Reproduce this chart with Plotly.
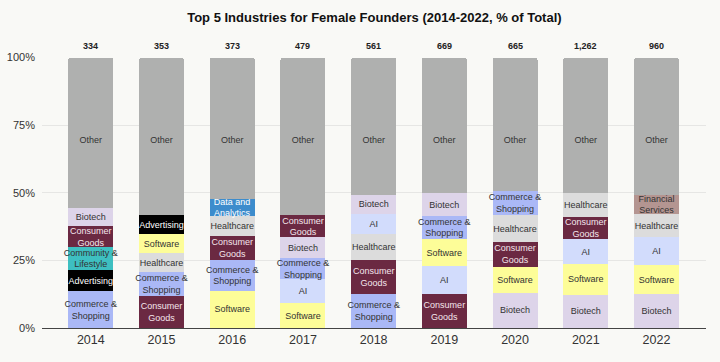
import plotly.graph_objects as go

years = ["2014", "2015", "2016", "2017", "2018", "2019", "2020", "2021", "2022"]
totals = ["334", "353", "373", "479", "561", "669", "665", "1,262", "960"]

# Segments stacked bottom -> top for each year
layer1_names = ["Commerce & Shopping", "Consumer Goods", "Software", "Software", "Commerce & Shopping",
                "Consumer Goods", "Biotech", "Biotech", "Biotech"]
layer1_vals = [13.5, 11.9, 13.7, 9.2, 12.5, 12.5, 13.1, 12.3, 12.5]

layer2_names = ["Advertising", "Commerce & Shopping", "Commerce & Shopping", "AI", "Consumer Goods",
                "AI", "Software", "Software", "Software"]
layer2_vals = [8.0, 8.7, 11.4, 8.8, 12.6, 10.4, 9.6, 11.4, 10.7]

layer3_names = ["Community & Lifestyle", "Healthcare", "Consumer Goods", "Commerce & Shopping", "Healthcare",
                "Software", "Consumer Goods", "AI", "AI"]
layer3_vals = [8.3, 7.2, 8.9, 7.8, 9.6, 9.9, 9.1, 9.1, 10.5]

layer4_names = ["Consumer Goods", "Software", "Healthcare", "Biotech", "AI",
                "Commerce & Shopping", "Healthcare", "Consumer Goods", "Healthcare"]
layer4_vals = [7.9, 6.8, 7.3, 7.7, 7.4, 8.6, 9.9, 8.1, 8.4]

layer5_names = ["Biotech", "Advertising", "Data and Analytics", "Consumer Goods", "Biotech",
                "Biotech", "Commerce & Shopping", "Healthcare", "Financial Services"]
layer5_vals = [6.7, 7.0, 6.4, 8.1, 7.2, 8.5, 8.8, 9.0, 7.2]

other_vals = [55.6, 58.4, 52.3, 58.4, 50.7, 50.1, 49.5, 50.1, 50.7]

colors = {
    "Other": "#afb0af",
    "Biotech": "#ddd4e9",
    "Consumer Goods": "#6b2942",
    "Community & Lifestyle": "#3ebfc1",
    "Advertising": "#000000",
    "Commerce & Shopping": "#aab8f6",
    "Software": "#fdfd98",
    "Healthcare": "#dcdcdc",
    "Data and Analytics": "#3d8ccc",
    "AI": "#d2dcfc",
    "Financial Services": "#b49591",
}
text_colors = {
    "Consumer Goods": "#f4e6ec",
    "Advertising": "#ffffff",
    "Data and Analytics": "#ffffff",
}
labels = {
    "Commerce & Shopping": "Commerce &<br>Shopping",
    "Consumer Goods": "Consumer<br>Goods",
    "Community & Lifestyle": "Community &<br>Lifestyle",
    "Data and Analytics": "Data and<br>Analytics",
    "Financial Services": "Financial<br>Services",
}

FONT = "Arial, Liberation Sans, sans-serif"
LABEL_SIZE = 9
xs = list(range(len(years)))

fig = go.Figure()
layers = [(layer1_names, layer1_vals), (layer2_names, layer2_vals), (layer3_names, layer3_vals),
          (layer4_names, layer4_vals), (layer5_names, layer5_vals)]
for names, vals in layers:
    fig.add_trace(go.Bar(
        x=xs, y=vals, width=0.636,
        marker=dict(color=[colors[n] for n in names], line=dict(width=0)),
        text=[labels.get(n, n) for n in names],
        textposition="inside", insidetextanchor="middle", textangle=0,
        constraintext="none",
        textfont=dict(family=FONT, size=LABEL_SIZE,
                      color=[text_colors.get(n, "#333333") for n in names]),
        hoverinfo="skip", showlegend=False,
    ))

fig.add_trace(go.Bar(
    x=xs, y=other_vals, width=0.636,
    marker=dict(color=colors["Other"], line=dict(width=0)),
    hoverinfo="skip", showlegend=False,
))

# "Other" labels sit at a common height
fig.add_trace(go.Scatter(
    x=xs, y=[69.3] * len(xs), mode="text", text=["Other"] * len(xs),
    textfont=dict(family=FONT, size=LABEL_SIZE, color="#333333"),
    hoverinfo="skip", showlegend=False,
))

# totals above bars
for x, t in zip(xs, totals):
    fig.add_annotation(
        x=x, y=100, xref="x", yref="y", text=f"<b>{t}</b>", showarrow=False,
        yanchor="bottom", yshift=5,
        font=dict(family=FONT, size=9, color="#222222"),
    )

fig.update_layout(
    width=720, height=362,
    barmode="stack",
    barcornerradius=3,
    paper_bgcolor="#f9f9f6",
    plot_bgcolor="#f9f9f6",
    margin=dict(l=42, r=14, t=57, b=34, autoexpand=False),
    title=dict(text="<b>Top 5 Industries for Female Founders (2014-2022, % of Total)</b>",
               x=0.52, xanchor="center", y=0.952, yanchor="middle",
               font=dict(family=FONT, size=13, color="#111111")),
    uniformtext=dict(minsize=LABEL_SIZE, mode="show"),
    font=dict(family=FONT, color="#333333"),
)
fig.update_xaxes(
    tickmode="array", tickvals=xs, ticktext=years,
    range=[-0.69, 8.70], showgrid=False, zeroline=False,
    showline=True, linecolor="#444444", linewidth=1.3,
    ticks="", tickfont=dict(family=FONT, size=12.5, color="#333333"),
    automargin=False,
)
fig.update_yaxes(
    range=[0, 100.2], tickvals=[0, 25, 50, 75, 100],
    ticktext=["0%", "25%", "50%", "75%", "100%"],
    showgrid=True, gridcolor="#e6e6e4", gridwidth=1, zeroline=False,
    ticks="", ticklabelstandoff=6, automargin=False,
    tickfont=dict(family=FONT, size=11, color="#333333"),
)

fig.write_html(
    "out.html",
    config={"displayModeBar": False},
    post_script="document.body.style.margin='0';document.body.style.background='#f9f9f6';",
)
